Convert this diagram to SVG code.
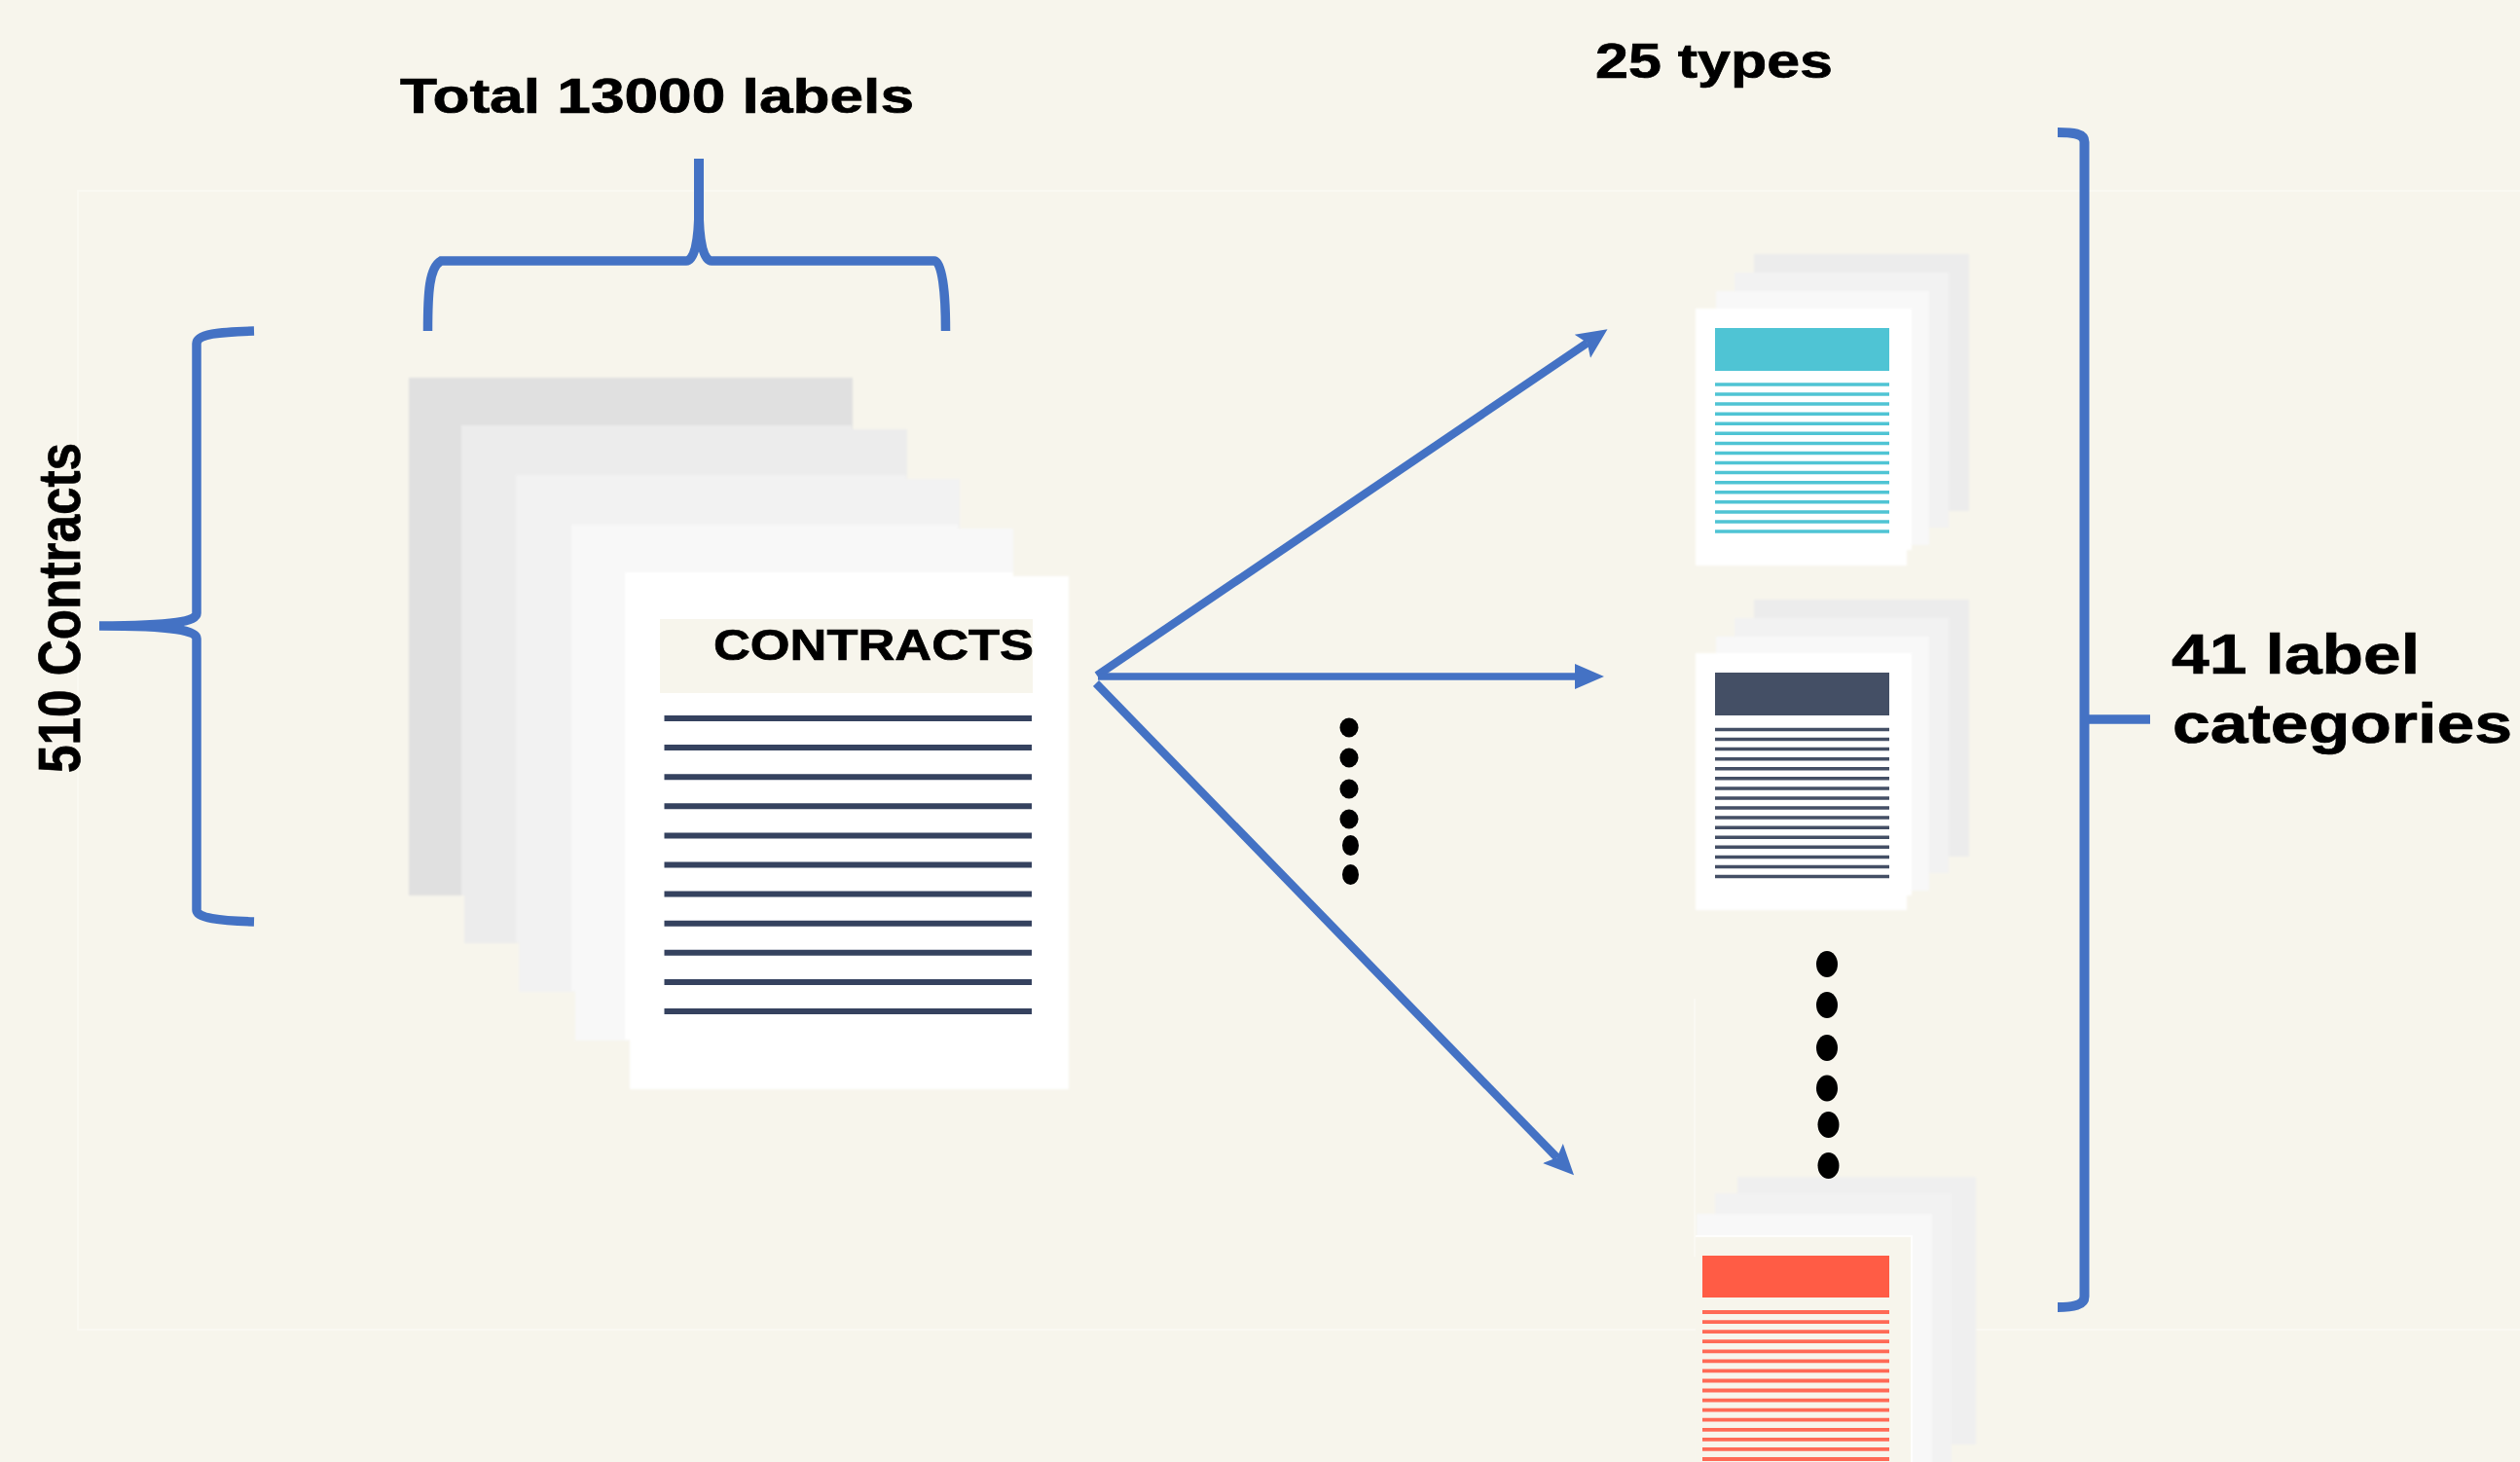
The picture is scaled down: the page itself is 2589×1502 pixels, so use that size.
<svg xmlns="http://www.w3.org/2000/svg" width="2589" height="1502" viewBox="0 0 2589 1502">
<defs>
<style>
.t{font-family:"Liberation Sans",Arial,sans-serif;font-weight:700;fill:#000;stroke:#000;stroke-width:.7}
.b{fill:none;stroke:#4472c4;stroke-width:9.500}
.a{fill:none;stroke:#4472c4;stroke-width:8.500}
.f{fill:none;stroke:#faf9f2;stroke-width:2}
.s1{fill:#e0e0e0}
.s2{fill:#ececec}
.s3{fill:#f2f2f2}
.s4{fill:#f8f8f8}
.w{fill:#fff}
.d{fill:#000}
</style>
<filter id="soft" x="-5%" y="-5%" width="110%" height="110%"><feGaussianBlur stdDeviation="1"/></filter>
<marker id="arr" markerUnits="userSpaceOnUse" markerWidth="32" markerHeight="32" viewBox="0 0 32 32" refX="6" refY="16" orient="auto">
<path d="M0 1.500L31 16L0 30.500L6 16Z" fill="#4472c4"/>
</marker>
<marker id="arr2" markerUnits="userSpaceOnUse" markerWidth="32" markerHeight="32" viewBox="0 0 32 32" refX="1" refY="16" orient="auto">
<path d="M0 3L30 16L0 29Z" fill="#4472c4"/>
</marker>
</defs>
<rect width="2589" height="1502" fill="#f7f5ec"/>
<rect class="f" x="80" y="196" width="2530" height="1170"/>

<g id="contracts-stack">
<g filter="url(#soft)">
<rect class="s1" x="420" y="388" width="456" height="532"/>
<polygon class="s2" points="474,437 875,437 875,441 932,441 932,969 477,969 477,920 474,920"/>
<polygon class="s3" points="530,488 931,488 931,492 986,492 986,1019 533,1019 533,968 530,968"/>
<polygon class="s4" points="587,539 984,539 984,543 1041,543 1041,1069 591,1069 591,1018 587,1018"/>
<polygon class="w" points="642,588 1041,588 1041,592 1098,592 1098,1119 647,1119 647,1068 642,1068"/>
</g>
<rect x="678" y="636" width="383" height="76" fill="#f7f5ec"/>
<path d="M682.500 738H1060M682.500 768.100H1060M682.500 798.200H1060M682.500 828.300H1060M682.500 858.400H1060M682.500 888.500H1060M682.500 918.600H1060M682.500 948.700H1060M682.500 978.800H1060M682.500 1008.900H1060M682.500 1039H1060" stroke="#35425f" stroke-width="6" fill="none"/>
<text class="t" x="733" y="678" font-size="45" textLength="329" lengthAdjust="spacingAndGlyphs">CONTRACTS</text>
</g>

<g id="doc-teal">
<g filter="url(#soft)">
<rect class="s2" x="1802" y="261" width="221" height="264"/>
<rect class="s3" x="1782" y="280" width="220" height="262"/>
<rect class="s4" x="1763" y="299" width="219" height="261"/>
<polygon class="w" points="1742,317 1964,317 1964,565 1959,565 1959,581 1742,581"/>
</g>
<rect x="1762" y="337" width="179" height="44" fill="#4fc4d4"/>
<path d="M1762 395H1941M1762 405.100H1941M1762 415.100H1941M1762 425.200H1941M1762 435.300H1941M1762 445.300H1941M1762 455.400H1941M1762 465.500H1941M1762 475.500H1941M1762 485.600H1941M1762 495.700H1941M1762 505.700H1941M1762 515.800H1941M1762 525.900H1941M1762 535.900H1941M1762 546H1941" stroke="#4fc4d4" stroke-width="3.500" fill="none"/>
</g>

<g id="doc-navy">
<g filter="url(#soft)">
<rect class="s2" x="1802" y="616" width="221" height="264"/>
<rect class="s3" x="1782" y="635" width="220" height="262"/>
<rect class="s4" x="1763" y="654" width="219" height="261"/>
<polygon class="w" points="1742,671 1964,671 1964,920 1959,920 1959,935 1742,935"/>
</g>
<rect x="1762" y="691" width="179" height="44" fill="#444f65"/>
<path d="M1762 749.500H1941M1762 759.600H1941M1762 769.600H1941M1762 779.700H1941M1762 789.800H1941M1762 799.800H1941M1762 809.900H1941M1762 820H1941M1762 830H1941M1762 840.100H1941M1762 850.200H1941M1762 860.200H1941M1762 870.300H1941M1762 880.400H1941M1762 890.400H1941M1762 900.500H1941" stroke="#444f65" stroke-width="3.500" fill="none"/>
</g>

<g id="doc-red">
<path class="f" d="M1741 1026V1291"/>
<g filter="url(#soft)">
<rect x="1785" y="1209" width="245" height="275" fill="#efefef"/>
<rect x="1762" y="1226" width="243" height="290" fill="#f2f2f2"/>
<rect x="1743" y="1247" width="242" height="270" fill="#f8f8f8"/>
</g>
<rect x="1742" y="1270" width="221" height="232" fill="#f7f5ec"/>
<path d="M1742 1270H1964V1502" fill="none" stroke="#fff" stroke-width="2" opacity=".8"/>
<rect x="1749" y="1290" width="192" height="43" fill="#ff5c45"/>
<path d="M1749 1348H1941M1749 1358.100H1941M1749 1368.100H1941M1749 1378.200H1941M1749 1388.300H1941M1749 1398.300H1941M1749 1408.400H1941M1749 1418.500H1941M1749 1428.500H1941M1749 1438.600H1941M1749 1448.700H1941M1749 1458.700H1941M1749 1468.800H1941M1749 1478.900H1941M1749 1488.900H1941M1749 1499H1941" stroke="#ff6a56" stroke-width="3.800" fill="none"/>
</g>

<g id="dots-small">
<ellipse class="d" cx="1386" cy="747.500" rx="9.500" ry="10"/>
<ellipse class="d" cx="1386" cy="778.500" rx="9.500" ry="10"/>
<ellipse class="d" cx="1386" cy="810.500" rx="9.500" ry="10"/>
<ellipse class="d" cx="1386" cy="841.500" rx="9.500" ry="10"/>
<ellipse class="d" cx="1387.500" cy="868.500" rx="8.500" ry="10.500"/>
<ellipse class="d" cx="1387.500" cy="898.500" rx="8.500" ry="10.500"/>
</g>

<g id="dots-large">
<ellipse class="d" cx="1877" cy="990.500" rx="11" ry="13.500"/>
<ellipse class="d" cx="1877" cy="1032.500" rx="11" ry="13.500"/>
<ellipse class="d" cx="1877" cy="1076.500" rx="11" ry="13.500"/>
<ellipse class="d" cx="1877" cy="1118" rx="11" ry="13.500"/>
<ellipse class="d" cx="1878.500" cy="1155.500" rx="11" ry="13.500"/>
<ellipse class="d" cx="1878.500" cy="1197.500" rx="11" ry="13.500"/>
</g>

<g id="connectors">
<path class="a" d="M1127 694L1630.800 352.300" marker-end="url(#arr)"/>
<path class="a" d="M1128 695H1619" style="stroke-width:7.500" marker-end="url(#arr2)"/>
<path class="a" d="M1126 702L1599.600 1189.300" marker-end="url(#arr)"/>
</g>

<g id="brace-top">
<path class="b" d="M439.500 340C439.500 300 441 275 453 268H705C713 268 718 250 718 212M718 212C718 250 723 268 731 268H960C968 268 971.500 300 971.500 340"/>
<path class="b" d="M718 163V225" style="stroke-width:10"/>
</g>
<g id="brace-left">
<path class="b" d="M261 340C225 341 202 343 202 353V630C202 638 180 643 102 643C180 643 202 648 202 656V935C202 943 225 946 261 947"/>
</g>
<g id="brace-right">
<path class="b" d="M2114 136C2130 136 2141.500 137 2141.500 146V1332C2141.500 1341 2130 1343 2114 1343" style="stroke-width:10"/>
<path class="b" d="M2209 739H2145"/>
</g>

<g id="labels">
<text class="t" x="411" y="116" font-size="50" textLength="528" lengthAdjust="spacingAndGlyphs">Total 13000 labels</text>
<text class="t" x="1639" y="80" font-size="50" textLength="244" lengthAdjust="spacingAndGlyphs">25 types</text>
<text class="t" transform="translate(81.500 794) rotate(-90)" font-size="62" textLength="339" lengthAdjust="spacingAndGlyphs">510 Contracts</text>
<text class="t" x="2231" y="691.500" font-size="58" textLength="255" lengthAdjust="spacingAndGlyphs">41 label</text>
<text class="t" x="2232" y="763" font-size="58" textLength="349" lengthAdjust="spacingAndGlyphs">categories</text>
</g>
</svg>
